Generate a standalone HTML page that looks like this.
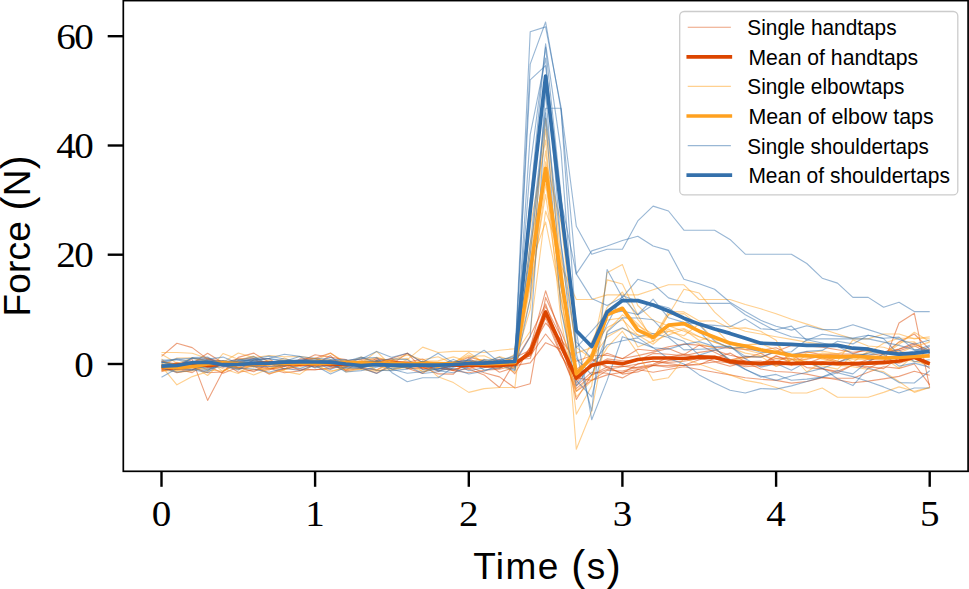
<!DOCTYPE html>
<html><head><meta charset="utf-8"><title>Force plot</title>
<style>
html,body{margin:0;padding:0;background:#fff;}
body{width:969px;height:589px;overflow:hidden;font-family:"Liberation Sans",sans-serif;}
svg{display:block;}
.tk{font-family:"Liberation Serif",serif;font-size:35.5px;fill:#000;}
.lg{font-family:"Liberation Sans",sans-serif;font-size:21.2px;fill:#000;}
.al{font-family:"Liberation Sans",sans-serif;font-size:37px;fill:#000;}
</style></head><body>
<svg width="969" height="589" viewBox="0 0 969 589">
<defs><clipPath id="ax"><rect x="123.3" y="0.5" width="844.8" height="470.8"/></clipPath></defs>
<rect x="0" y="0" width="969" height="589" fill="#fff"/>
<g fill="none" stroke-width="1.12" stroke-linejoin="round" clip-path="url(#ax)">
<g stroke="#dc4500" stroke-opacity="0.5">
<path d="M161.5 356.4 L176.9 343.2 L192.2 347.6 L207.6 359.1 L223.0 362.4 L238.3 368.9 L253.7 366.3 L269.0 369.0 L284.4 366.4 L299.8 362.9 L315.1 364.2 L330.5 355.6 L345.9 370.9 L361.2 367.9 L376.6 373.3 L392.0 364.1 L407.3 353.2 L422.7 369.4 L438.1 365.9 L453.4 362.7 L468.8 364.7 L484.1 362.0 L499.5 372.3 L514.9 367.3 L530.2 347.6 L545.6 290.8 L561.0 336.7 L576.3 399.5 L591.7 374.9 L607.1 369.5 L622.4 366.7 L637.8 364.0 L653.1 361.3 L668.5 362.4 L683.9 361.3 L699.2 358.5 L714.6 361.3 L730.0 362.9 L745.3 366.7 L760.7 365.6 L776.1 364.0 L791.4 362.9 L806.8 362.9 L822.2 364.0 L837.5 365.1 L852.9 364.0 L868.2 363.5 L883.6 363.2 L899.0 323.0 L914.3 313.2 L929.7 387.5"/>
<path d="M161.5 360.9 L176.9 365.6 L192.2 359.6 L207.6 400.4 L223.0 371.1 L238.3 363.6 L253.7 365.9 L269.0 374.1 L284.4 368.7 L299.8 365.3 L315.1 361.5 L330.5 366.5 L345.9 365.2 L361.2 362.0 L376.6 362.5 L392.0 358.2 L407.3 353.2 L422.7 362.9 L438.1 371.4 L453.4 363.8 L468.8 368.9 L484.1 374.9 L499.5 387.5 L514.9 361.3 L530.2 355.8 L545.6 334.0 L561.0 353.1 L576.3 391.3 L591.7 380.4 L607.1 374.9 L622.4 372.2 L637.8 369.5 L653.1 372.2 L668.5 369.5 L683.9 366.7 L699.2 369.5 L714.6 372.2 L730.0 374.9 L745.3 377.7 L760.7 379.3 L776.1 380.4 L791.4 383.1 L806.8 381.5 L822.2 377.7 L837.5 378.2 L852.9 378.2 L868.2 372.2 L883.6 366.7 L899.0 368.4 L914.3 364.0 L929.7 384.8"/>
<path d="M161.5 368.1 L176.9 362.2 L192.2 366.9 L207.6 372.7 L223.0 372.0 L238.3 357.4 L253.7 353.1 L269.0 361.9 L284.4 366.1 L299.8 364.0 L315.1 367.1 L330.5 360.0 L345.9 362.5 L361.2 367.8 L376.6 360.3 L392.0 364.7 L407.3 363.4 L422.7 363.8 L438.1 365.2 L453.4 363.2 L468.8 366.5 L484.1 372.7 L499.5 376.9 L514.9 388.0 L530.2 383.7 L545.6 297.4 L561.0 331.2 L576.3 369.5 L591.7 358.5 L607.1 366.6 L622.4 374.1 L637.8 371.9 L653.1 365.4 L668.5 360.5 L683.9 358.9 L699.2 359.0 L714.6 358.5 L730.0 363.2 L745.3 364.0 L760.7 363.5 L776.1 356.5 L791.4 359.2 L806.8 359.2 L822.2 356.0 L837.5 361.2 L852.9 365.3 L868.2 362.0 L883.6 353.8 L899.0 349.2 L914.3 344.2 L929.7 350.5"/>
<path d="M161.5 361.7 L176.9 363.8 L192.2 362.2 L207.6 357.8 L223.0 367.1 L238.3 365.6 L253.7 363.8 L269.0 366.2 L284.4 366.3 L299.8 361.8 L315.1 354.8 L330.5 357.3 L345.9 359.6 L361.2 368.4 L376.6 358.1 L392.0 361.0 L407.3 362.8 L422.7 368.0 L438.1 366.1 L453.4 369.4 L468.8 366.1 L484.1 363.1 L499.5 363.4 L514.9 361.3 L530.2 336.1 L545.6 303.9 L561.0 347.6 L576.3 385.9 L591.7 372.2 L607.1 373.3 L622.4 377.9 L637.8 369.5 L653.1 365.5 L668.5 367.1 L683.9 365.2 L699.2 359.8 L714.6 356.2 L730.0 363.6 L745.3 365.1 L760.7 364.2 L776.1 358.5 L791.4 359.0 L806.8 367.6 L822.2 368.9 L837.5 371.2 L852.9 364.9 L868.2 366.6 L883.6 368.6 L899.0 357.7 L914.3 356.4 L929.7 368.6"/>
<path d="M161.5 370.4 L176.9 369.0 L192.2 372.6 L207.6 362.9 L223.0 361.3 L238.3 367.7 L253.7 360.0 L269.0 358.5 L284.4 369.4 L299.8 358.9 L315.1 358.4 L330.5 353.0 L345.9 364.1 L361.2 361.9 L376.6 361.3 L392.0 362.0 L407.3 362.4 L422.7 359.0 L438.1 367.9 L453.4 370.8 L468.8 372.8 L484.1 370.2 L499.5 369.3 L514.9 365.6 L530.2 362.9 L545.6 342.7 L561.0 349.2 L576.3 373.8 L591.7 366.7 L607.1 358.9 L622.4 360.8 L637.8 360.3 L653.1 353.4 L668.5 354.3 L683.9 355.8 L699.2 352.4 L714.6 350.1 L730.0 355.3 L745.3 358.4 L760.7 353.2 L776.1 361.9 L791.4 355.1 L806.8 363.4 L822.2 357.7 L837.5 362.7 L852.9 365.0 L868.2 359.2 L883.6 360.5 L899.0 357.4 L914.3 358.4 L929.7 363.4"/>
<path d="M161.5 369.7 L176.9 369.3 L192.2 369.7 L207.6 364.2 L223.0 362.7 L238.3 364.5 L253.7 363.5 L269.0 364.4 L284.4 363.3 L299.8 360.6 L315.1 358.5 L330.5 364.4 L345.9 370.3 L361.2 361.0 L376.6 362.2 L392.0 358.7 L407.3 368.3 L422.7 367.3 L438.1 365.4 L453.4 370.5 L468.8 369.0 L484.1 363.3 L499.5 359.3 L514.9 373.8 L530.2 347.1 L545.6 306.6 L561.0 336.7 L576.3 383.1 L591.7 361.3 L607.1 353.2 L622.4 358.7 L637.8 349.3 L653.1 350.7 L668.5 346.8 L683.9 344.1 L699.2 345.1 L714.6 352.3 L730.0 359.8 L745.3 360.6 L760.7 365.2 L776.1 355.6 L791.4 363.0 L806.8 363.9 L822.2 364.1 L837.5 363.1 L852.9 354.8 L868.2 355.2 L883.6 353.8 L899.0 342.1 L914.3 334.0 L929.7 349.4"/>
<path d="M161.5 369.8 L176.9 369.2 L192.2 364.9 L207.6 365.9 L223.0 373.2 L238.3 367.2 L253.7 371.7 L269.0 363.8 L284.4 368.8 L299.8 369.0 L315.1 369.8 L330.5 368.8 L345.9 360.8 L361.2 359.1 L376.6 359.3 L392.0 360.6 L407.3 368.8 L422.7 368.3 L438.1 368.2 L453.4 369.9 L468.8 364.6 L484.1 367.3 L499.5 368.4 L514.9 359.6 L530.2 358.5 L545.6 317.6 L561.0 355.8 L576.3 377.7 L591.7 380.4 L607.1 370.4 L622.4 371.0 L637.8 367.1 L653.1 364.3 L668.5 357.2 L683.9 354.1 L699.2 357.6 L714.6 358.2 L730.0 353.1 L745.3 361.7 L760.7 361.0 L776.1 366.0 L791.4 363.4 L806.8 362.2 L822.2 368.8 L837.5 372.9 L852.9 364.9 L868.2 368.3 L883.6 361.2 L899.0 363.2 L914.3 358.4 L929.7 355.9"/>
<path d="M161.5 371.6 L176.9 366.4 L192.2 363.5 L207.6 353.3 L223.0 362.7 L238.3 358.8 L253.7 358.5 L269.0 368.4 L284.4 369.3 L299.8 365.7 L315.1 366.8 L330.5 365.9 L345.9 362.9 L361.2 366.8 L376.6 363.4 L392.0 366.3 L407.3 367.3 L422.7 363.3 L438.1 366.0 L453.4 363.7 L468.8 357.3 L484.1 360.9 L499.5 363.2 L514.9 357.4 L530.2 350.3 L545.6 323.0 L561.0 339.4 L576.3 361.3 L591.7 355.8 L607.1 355.3 L622.4 358.5 L637.8 355.6 L653.1 352.1 L668.5 348.4 L683.9 354.8 L699.2 345.1 L714.6 347.4 L730.0 348.1 L745.3 349.4 L760.7 350.4 L776.1 347.7 L791.4 355.3 L806.8 351.9 L822.2 354.8 L837.5 354.1 L852.9 353.9 L868.2 348.3 L883.6 352.0 L899.0 349.1 L914.3 342.9 L929.7 353.1"/>
<path d="M161.5 365.9 L176.9 372.8 L192.2 370.0 L207.6 358.8 L223.0 361.3 L238.3 368.0 L253.7 364.7 L269.0 368.3 L284.4 372.7 L299.8 370.9 L315.1 364.1 L330.5 362.5 L345.9 363.7 L361.2 367.7 L376.6 370.1 L392.0 361.2 L407.3 361.7 L422.7 366.9 L438.1 373.9 L453.4 374.1 L468.8 358.4 L484.1 366.2 L499.5 365.3 L514.9 366.7 L530.2 353.1 L545.6 314.8 L561.0 353.1 L576.3 388.6 L591.7 374.9 L607.1 367.0 L622.4 366.1 L637.8 368.1 L653.1 365.2 L668.5 365.5 L683.9 365.3 L699.2 364.0 L714.6 361.9 L730.0 366.2 L745.3 362.2 L760.7 369.0 L776.1 371.5 L791.4 372.3 L806.8 374.1 L822.2 377.3 L837.5 379.8 L852.9 382.7 L868.2 381.1 L883.6 378.9 L899.0 376.4 L914.3 371.3 L929.7 375.2"/>
<path d="M161.5 365.6 L176.9 366.6 L192.2 364.7 L207.6 363.3 L223.0 362.3 L238.3 372.2 L253.7 369.9 L269.0 369.9 L284.4 363.5 L299.8 370.2 L315.1 369.7 L330.5 367.8 L345.9 367.1 L361.2 361.3 L376.6 364.6 L392.0 360.3 L407.3 368.3 L422.7 373.4 L438.1 363.2 L453.4 361.9 L468.8 361.0 L484.1 362.2 L499.5 361.2 L514.9 362.4 L530.2 355.8 L545.6 310.5 L561.0 347.6 L576.3 372.2 L591.7 359.6 L607.1 367.8 L622.4 373.3 L637.8 363.9 L653.1 361.3 L668.5 363.6 L683.9 365.5 L699.2 364.7 L714.6 358.3 L730.0 360.0 L745.3 356.4 L760.7 357.3 L776.1 351.6 L791.4 345.5 L806.8 345.9 L822.2 347.1 L837.5 349.8 L852.9 352.2 L868.2 350.6 L883.6 352.1 L899.0 350.9 L914.3 345.7 L929.7 353.4"/>
</g>
<g stroke="#ffa11f" stroke-opacity="0.5">
<path d="M161.5 367.8 L176.9 367.1 L192.2 363.4 L207.6 361.0 L223.0 362.8 L238.3 367.2 L253.7 366.1 L269.0 365.2 L284.4 361.3 L299.8 361.5 L315.1 366.0 L330.5 370.8 L345.9 368.7 L361.2 369.4 L376.6 371.3 L392.0 367.8 L407.3 367.8 L422.7 362.9 L438.1 376.8 L453.4 382.6 L468.8 392.4 L484.1 388.6 L499.5 387.5 L514.9 387.5 L530.2 254.7 L545.6 118.2 L561.0 254.7 L576.3 449.2 L591.7 411.0 L607.1 331.2 L622.4 314.8 L637.8 325.8 L653.1 334.0 L668.5 331.2 L683.9 328.5 L699.2 336.7 L714.6 342.1 L730.0 347.6 L745.3 353.1 L760.7 355.8 L776.1 358.5 L791.4 360.7 L806.8 362.4 L822.2 362.4 L837.5 365.1 L852.9 366.7 L868.2 369.5 L883.6 371.6 L899.0 381.5 L914.3 392.4 L929.7 387.5"/>
<path d="M161.5 358.9 L176.9 372.1 L192.2 370.9 L207.6 366.0 L223.0 362.3 L238.3 353.0 L253.7 357.6 L269.0 355.5 L284.4 356.8 L299.8 356.6 L315.1 358.5 L330.5 362.2 L345.9 361.0 L361.2 367.3 L376.6 360.3 L392.0 366.8 L407.3 359.6 L422.7 347.1 L438.1 352.5 L453.4 351.4 L468.8 351.2 L484.1 352.5 L499.5 350.3 L514.9 348.7 L530.2 265.7 L545.6 129.1 L561.0 265.7 L576.3 299.5 L591.7 299.5 L607.1 294.9 L622.4 294.9 L637.8 294.9 L653.1 289.7 L668.5 284.8 L683.9 284.8 L699.2 299.5 L714.6 299.5 L730.0 299.5 L745.3 304.5 L760.7 308.8 L776.1 313.7 L791.4 319.2 L806.8 324.1 L822.2 329.0 L837.5 334.0 L852.9 338.9 L868.2 338.9 L883.6 334.0 L899.0 334.0 L914.3 338.9 L929.7 336.7"/>
<path d="M161.5 366.2 L176.9 384.8 L192.2 376.6 L207.6 371.6 L223.0 353.5 L238.3 359.2 L253.7 360.7 L269.0 364.4 L284.4 358.0 L299.8 364.4 L315.1 361.2 L330.5 364.8 L345.9 367.4 L361.2 362.4 L376.6 357.4 L392.0 361.1 L407.3 365.7 L422.7 361.2 L438.1 363.0 L453.4 362.2 L468.8 356.5 L484.1 355.7 L499.5 362.5 L514.9 361.8 L530.2 298.4 L545.6 183.7 L561.0 287.5 L576.3 414.3 L591.7 385.9 L607.1 272.8 L622.4 264.6 L637.8 305.5 L653.1 320.3 L668.5 325.8 L683.9 331.2 L699.2 336.7 L714.6 342.1 L730.0 347.6 L745.3 347.6 L760.7 350.3 L776.1 353.1 L791.4 355.8 L806.8 355.8 L822.2 358.5 L837.5 358.5 L852.9 355.8 L868.2 353.1 L883.6 343.2 L899.0 338.3 L914.3 338.3 L929.7 338.3"/>
<path d="M161.5 352.5 L176.9 352.5 L192.2 353.3 L207.6 358.5 L223.0 371.8 L238.3 359.7 L253.7 356.1 L269.0 365.8 L284.4 371.4 L299.8 374.4 L315.1 363.5 L330.5 365.8 L345.9 365.1 L361.2 365.9 L376.6 365.4 L392.0 369.4 L407.3 366.3 L422.7 371.3 L438.1 367.6 L453.4 364.3 L468.8 362.1 L484.1 364.1 L499.5 368.0 L514.9 361.3 L530.2 282.1 L545.6 150.9 L561.0 282.1 L576.3 380.4 L591.7 353.1 L607.1 279.9 L622.4 284.0 L637.8 314.8 L653.1 342.1 L668.5 314.8 L683.9 289.2 L699.2 293.0 L714.6 312.1 L730.0 325.8 L745.3 331.2 L760.7 334.0 L776.1 336.7 L791.4 339.4 L806.8 342.1 L822.2 344.3 L837.5 344.3 L852.9 347.6 L868.2 350.3 L883.6 353.1 L899.0 353.1 L914.3 346.5 L929.7 342.1"/>
<path d="M161.5 365.8 L176.9 358.0 L192.2 357.9 L207.6 361.8 L223.0 365.1 L238.3 367.5 L253.7 369.7 L269.0 368.1 L284.4 364.6 L299.8 362.0 L315.1 360.6 L330.5 353.3 L345.9 362.3 L361.2 363.2 L376.6 351.4 L392.0 366.5 L407.3 367.4 L422.7 364.8 L438.1 363.7 L453.4 362.1 L468.8 364.2 L484.1 362.5 L499.5 363.1 L514.9 365.6 L530.2 287.5 L545.6 194.6 L561.0 298.4 L576.3 391.3 L591.7 374.9 L607.1 347.6 L622.4 331.2 L637.8 353.1 L653.1 380.4 L668.5 377.7 L683.9 358.5 L699.2 364.0 L714.6 369.5 L730.0 374.9 L745.3 380.4 L760.7 383.1 L776.1 387.5 L791.4 393.0 L806.8 393.0 L822.2 388.0 L837.5 397.3 L852.9 397.3 L868.2 397.3 L883.6 392.4 L899.0 386.9 L914.3 391.3 L929.7 387.5"/>
<path d="M161.5 370.8 L176.9 370.9 L192.2 367.1 L207.6 369.9 L223.0 371.2 L238.3 364.5 L253.7 367.1 L269.0 362.6 L284.4 360.1 L299.8 360.9 L315.1 360.4 L330.5 362.8 L345.9 369.6 L361.2 366.7 L376.6 363.2 L392.0 366.0 L407.3 365.3 L422.7 361.3 L438.1 366.6 L453.4 362.4 L468.8 355.1 L484.1 362.4 L499.5 362.7 L514.9 357.4 L530.2 227.4 L545.6 140.0 L561.0 309.4 L576.3 374.9 L591.7 342.1 L607.1 307.4 L622.4 292.0 L637.8 319.3 L653.1 337.6 L668.5 314.6 L683.9 313.6 L699.2 325.8 L714.6 327.9 L730.0 344.0 L745.3 344.8 L760.7 343.5 L776.1 349.9 L791.4 359.1 L806.8 361.4 L822.2 365.9 L837.5 369.1 L852.9 354.9 L868.2 358.8 L883.6 355.8 L899.0 342.0 L914.3 341.9 L929.7 351.6"/>
<path d="M161.5 363.3 L176.9 370.2 L192.2 366.7 L207.6 368.2 L223.0 364.3 L238.3 369.1 L253.7 374.9 L269.0 368.7 L284.4 365.0 L299.8 366.8 L315.1 361.4 L330.5 364.0 L345.9 366.7 L361.2 363.1 L376.6 370.5 L392.0 369.9 L407.3 366.7 L422.7 361.5 L438.1 363.6 L453.4 362.5 L468.8 366.2 L484.1 363.7 L499.5 356.6 L514.9 361.3 L530.2 309.4 L545.6 161.9 L561.0 222.0 L576.3 353.1 L591.7 347.6 L607.1 327.6 L622.4 319.7 L637.8 334.8 L653.1 338.7 L668.5 311.6 L683.9 311.9 L699.2 321.1 L714.6 320.7 L730.0 328.6 L745.3 327.9 L760.7 331.3 L776.1 340.3 L791.4 365.6 L806.8 354.8 L822.2 359.3 L837.5 361.2 L852.9 339.9 L868.2 346.0 L883.6 347.2 L899.0 352.3 L914.3 357.1 L929.7 364.4"/>
<path d="M161.5 362.0 L176.9 364.3 L192.2 362.6 L207.6 363.0 L223.0 360.6 L238.3 364.1 L253.7 364.2 L269.0 373.4 L284.4 370.1 L299.8 363.8 L315.1 358.1 L330.5 362.9 L345.9 364.0 L361.2 357.1 L376.6 362.3 L392.0 360.0 L407.3 354.9 L422.7 359.7 L438.1 356.7 L453.4 363.8 L468.8 363.0 L484.1 363.9 L499.5 363.5 L514.9 368.4 L530.2 243.8 L545.6 172.8 L561.0 320.3 L576.3 396.8 L591.7 380.4 L607.1 314.4 L622.4 310.1 L637.8 324.0 L653.1 339.2 L668.5 329.1 L683.9 338.4 L699.2 343.8 L714.6 347.7 L730.0 360.6 L745.3 357.4 L760.7 356.3 L776.1 366.3 L791.4 359.8 L806.8 352.9 L822.2 351.0 L837.5 353.9 L852.9 348.7 L868.2 347.6 L883.6 354.7 L899.0 344.5 L914.3 332.2 L929.7 341.6"/>
<path d="M161.5 354.2 L176.9 363.0 L192.2 365.4 L207.6 375.5 L223.0 360.9 L238.3 365.8 L253.7 364.9 L269.0 362.1 L284.4 369.1 L299.8 364.3 L315.1 364.2 L330.5 372.1 L345.9 366.4 L361.2 359.8 L376.6 370.3 L392.0 363.3 L407.3 362.8 L422.7 361.4 L438.1 360.9 L453.4 356.9 L468.8 361.8 L484.1 359.2 L499.5 363.6 L514.9 354.2 L530.2 331.2 L545.6 211.0 L561.0 254.7 L576.3 347.6 L591.7 358.5 L607.1 337.0 L622.4 328.3 L637.8 335.0 L653.1 344.2 L668.5 331.3 L683.9 335.7 L699.2 323.8 L714.6 339.9 L730.0 341.6 L745.3 345.5 L760.7 343.7 L776.1 343.0 L791.4 363.8 L806.8 358.8 L822.2 353.1 L837.5 354.1 L852.9 362.2 L868.2 351.3 L883.6 357.9 L899.0 368.3 L914.3 355.4 L929.7 365.0"/>
<path d="M161.5 364.3 L176.9 363.5 L192.2 358.3 L207.6 360.9 L223.0 368.7 L238.3 373.5 L253.7 363.1 L269.0 360.4 L284.4 365.9 L299.8 361.1 L315.1 360.5 L330.5 359.6 L345.9 371.9 L361.2 368.9 L376.6 362.3 L392.0 360.0 L407.3 358.4 L422.7 372.2 L438.1 367.0 L453.4 363.2 L468.8 352.5 L484.1 363.0 L499.5 365.0 L514.9 372.2 L530.2 265.7 L545.6 222.0 L561.0 298.4 L576.3 374.9 L591.7 353.1 L607.1 320.1 L622.4 317.8 L637.8 346.9 L653.1 341.1 L668.5 334.9 L683.9 329.5 L699.2 340.5 L714.6 336.3 L730.0 343.4 L745.3 350.0 L760.7 353.5 L776.1 350.9 L791.4 354.9 L806.8 372.0 L822.2 361.7 L837.5 357.8 L852.9 359.3 L868.2 359.5 L883.6 356.6 L899.0 358.1 L914.3 361.4 L929.7 364.9"/>
</g>
<g stroke="#3470ab" stroke-opacity="0.5">
<path d="M161.5 362.4 L176.9 364.2 L192.2 365.3 L207.6 368.3 L223.0 366.8 L238.3 360.9 L253.7 360.9 L269.0 358.5 L284.4 360.6 L299.8 360.9 L315.1 361.9 L330.5 369.6 L345.9 363.2 L361.2 361.6 L376.6 361.0 L392.0 369.3 L407.3 373.2 L422.7 371.7 L438.1 369.3 L453.4 365.2 L468.8 364.7 L484.1 362.3 L499.5 365.7 L514.9 359.6 L530.2 31.8 L545.6 26.9 L561.0 107.2 L576.3 226.3 L591.7 254.2 L607.1 249.3 L622.4 249.3 L637.8 220.9 L653.1 206.1 L668.5 211.0 L683.9 230.2 L699.2 230.2 L714.6 230.2 L730.0 239.4 L745.3 254.2 L760.7 254.2 L776.1 254.2 L791.4 254.2 L806.8 263.5 L822.2 278.2 L837.5 283.1 L852.9 297.4 L868.2 297.4 L883.6 307.2 L899.0 302.3 L914.3 311.6 L929.7 311.6"/>
<path d="M161.5 361.9 L176.9 365.7 L192.2 358.0 L207.6 359.1 L223.0 357.1 L238.3 363.3 L253.7 366.6 L269.0 366.5 L284.4 365.6 L299.8 362.2 L315.1 362.2 L330.5 365.0 L345.9 368.2 L361.2 367.9 L376.6 361.0 L392.0 365.8 L407.3 363.9 L422.7 362.3 L438.1 369.1 L453.4 366.1 L468.8 359.8 L484.1 370.0 L499.5 368.0 L514.9 362.9 L530.2 64.1 L545.6 22.0 L561.0 110.0 L576.3 273.9 L591.7 250.9 L607.1 246.0 L622.4 240.5 L637.8 236.2 L653.1 246.0 L668.5 250.4 L683.9 279.3 L699.2 283.7 L714.6 289.2 L730.0 302.3 L745.3 311.6 L760.7 320.3 L776.1 326.3 L791.4 330.1 L806.8 325.8 L822.2 329.6 L837.5 329.6 L852.9 324.7 L868.2 329.6 L883.6 334.5 L899.0 339.4 L914.3 344.3 L929.7 340.0"/>
<path d="M161.5 367.4 L176.9 363.6 L192.2 364.1 L207.6 369.8 L223.0 363.3 L238.3 361.1 L253.7 359.0 L269.0 356.1 L284.4 359.0 L299.8 361.3 L315.1 367.9 L330.5 363.3 L345.9 366.1 L361.2 366.7 L376.6 370.2 L392.0 370.6 L407.3 369.1 L422.7 361.2 L438.1 370.7 L453.4 372.8 L468.8 367.0 L484.1 359.7 L499.5 359.8 L514.9 357.4 L530.2 79.9 L545.6 65.7 L561.0 200.1 L576.3 273.9 L591.7 298.4 L607.1 305.5 L622.4 297.4 L637.8 279.3 L653.1 284.0 L668.5 297.9 L683.9 302.5 L699.2 303.4 L714.6 303.4 L730.0 303.4 L745.3 314.8 L760.7 323.0 L776.1 331.2 L791.4 336.7 L806.8 338.9 L822.2 338.9 L837.5 338.9 L852.9 338.9 L868.2 338.9 L883.6 342.1 L899.0 345.4 L914.3 349.8 L929.7 349.8"/>
<path d="M161.5 377.3 L176.9 368.6 L192.2 369.0 L207.6 370.6 L223.0 363.1 L238.3 359.3 L253.7 361.3 L269.0 361.8 L284.4 361.3 L299.8 356.5 L315.1 358.2 L330.5 359.3 L345.9 359.8 L361.2 368.3 L376.6 360.9 L392.0 358.8 L407.3 359.6 L422.7 369.8 L438.1 369.1 L453.4 363.0 L468.8 370.7 L484.1 367.7 L499.5 361.7 L514.9 369.5 L530.2 243.8 L545.6 108.3 L561.0 108.3 L576.3 331.2 L591.7 419.7 L607.1 380.4 L622.4 336.7 L637.8 342.1 L653.1 347.6 L668.5 358.5 L683.9 364.0 L699.2 374.9 L714.6 383.1 L730.0 390.2 L745.3 393.0 L760.7 388.6 L776.1 389.1 L791.4 385.9 L806.8 381.5 L822.2 377.1 L837.5 372.7 L852.9 376.6 L868.2 381.5 L883.6 386.9 L899.0 393.0 L914.3 388.0 L929.7 388.0"/>
<path d="M161.5 360.0 L176.9 360.0 L192.2 362.8 L207.6 362.2 L223.0 360.6 L238.3 362.0 L253.7 358.6 L269.0 364.2 L284.4 365.7 L299.8 360.7 L315.1 362.4 L330.5 366.7 L345.9 361.5 L361.2 357.1 L376.6 362.7 L392.0 368.8 L407.3 366.7 L422.7 365.8 L438.1 366.0 L453.4 359.4 L468.8 366.0 L484.1 359.9 L499.5 367.2 L514.9 360.7 L530.2 200.1 L545.6 43.9 L561.0 150.9 L576.3 353.1 L591.7 411.0 L607.1 269.5 L622.4 297.4 L637.8 314.8 L653.1 305.0 L668.5 309.9 L683.9 319.2 L699.2 331.2 L714.6 347.6 L730.0 361.3 L745.3 369.5 L760.7 376.0 L776.1 380.4 L791.4 376.0 L806.8 372.2 L822.2 368.4 L837.5 362.4 L852.9 357.4 L868.2 353.1 L883.6 352.0 L899.0 355.8 L914.3 350.9 L929.7 345.4"/>
<path d="M161.5 362.9 L176.9 359.1 L192.2 358.4 L207.6 360.1 L223.0 361.7 L238.3 362.4 L253.7 361.0 L269.0 363.3 L284.4 362.6 L299.8 361.1 L315.1 362.7 L330.5 360.4 L345.9 360.2 L361.2 359.1 L376.6 351.4 L392.0 357.4 L407.3 353.3 L422.7 362.4 L438.1 353.3 L453.4 362.9 L468.8 359.6 L484.1 350.3 L499.5 362.4 L514.9 362.4 L530.2 167.3 L545.6 47.1 L561.0 194.6 L576.3 342.1 L591.7 358.5 L607.1 324.2 L622.4 295.8 L637.8 301.0 L653.1 304.1 L668.5 307.8 L683.9 319.5 L699.2 324.7 L714.6 341.1 L730.0 348.2 L745.3 347.1 L760.7 352.2 L776.1 353.2 L791.4 351.7 L806.8 339.7 L822.2 343.0 L837.5 346.5 L852.9 353.7 L868.2 355.0 L883.6 352.8 L899.0 350.2 L914.3 361.7 L929.7 359.8"/>
<path d="M161.5 364.3 L176.9 367.9 L192.2 369.8 L207.6 372.4 L223.0 362.8 L238.3 360.5 L253.7 356.6 L269.0 364.4 L284.4 364.2 L299.8 368.6 L315.1 363.0 L330.5 357.3 L345.9 364.5 L361.2 358.1 L376.6 357.5 L392.0 372.7 L407.3 381.8 L422.7 377.7 L438.1 377.7 L453.4 367.3 L468.8 363.3 L484.1 362.1 L499.5 357.2 L514.9 366.7 L530.2 134.6 L545.6 58.1 L561.0 243.8 L576.3 380.4 L591.7 396.8 L607.1 332.2 L622.4 317.8 L637.8 318.0 L653.1 319.8 L668.5 336.1 L683.9 341.3 L699.2 355.1 L714.6 350.3 L730.0 346.3 L745.3 356.4 L760.7 357.1 L776.1 351.5 L791.4 354.5 L806.8 351.4 L822.2 350.4 L837.5 341.3 L852.9 343.9 L868.2 335.3 L883.6 338.2 L899.0 337.1 L914.3 349.8 L929.7 352.8"/>
<path d="M161.5 368.3 L176.9 372.1 L192.2 370.2 L207.6 363.1 L223.0 365.8 L238.3 368.4 L253.7 369.0 L269.0 372.3 L284.4 368.2 L299.8 370.5 L315.1 365.5 L330.5 374.0 L345.9 367.2 L361.2 368.0 L376.6 373.4 L392.0 365.4 L407.3 365.7 L422.7 373.5 L438.1 371.7 L453.4 366.3 L468.8 366.9 L484.1 362.2 L499.5 360.3 L514.9 355.8 L530.2 254.7 L545.6 112.7 L561.0 243.8 L576.3 347.6 L591.7 331.2 L607.1 313.7 L622.4 311.1 L637.8 314.5 L653.1 299.1 L668.5 317.8 L683.9 322.4 L699.2 324.3 L714.6 325.4 L730.0 326.7 L745.3 319.1 L760.7 328.8 L776.1 329.7 L791.4 326.1 L806.8 340.3 L822.2 334.2 L837.5 336.1 L852.9 338.1 L868.2 335.2 L883.6 338.6 L899.0 354.8 L914.3 354.4 L929.7 346.6"/>
<path d="M161.5 365.2 L176.9 368.4 L192.2 357.6 L207.6 357.1 L223.0 365.6 L238.3 370.0 L253.7 360.0 L269.0 358.3 L284.4 354.3 L299.8 356.4 L315.1 364.0 L330.5 363.0 L345.9 372.0 L361.2 370.6 L376.6 367.2 L392.0 363.4 L407.3 366.6 L422.7 365.7 L438.1 362.9 L453.4 362.0 L468.8 360.6 L484.1 361.7 L499.5 364.2 L514.9 362.9 L530.2 336.7 L545.6 118.2 L561.0 309.4 L576.3 385.9 L591.7 364.0 L607.1 344.8 L622.4 340.8 L637.8 337.9 L653.1 347.7 L668.5 349.1 L683.9 344.4 L699.2 341.6 L714.6 346.6 L730.0 346.0 L745.3 358.7 L760.7 367.1 L776.1 363.6 L791.4 370.3 L806.8 362.1 L822.2 368.0 L837.5 378.8 L852.9 385.6 L868.2 368.0 L883.6 373.0 L899.0 382.6 L914.3 383.0 L929.7 370.7"/>
<path d="M161.5 361.2 L176.9 358.9 L192.2 361.7 L207.6 367.5 L223.0 364.9 L238.3 363.0 L253.7 359.1 L269.0 358.7 L284.4 361.5 L299.8 359.5 L315.1 359.9 L330.5 361.3 L345.9 362.6 L361.2 364.3 L376.6 361.4 L392.0 367.0 L407.3 367.8 L422.7 365.7 L438.1 370.5 L453.4 368.6 L468.8 374.0 L484.1 371.2 L499.5 365.0 L514.9 370.6 L530.2 298.4 L545.6 90.9 L561.0 287.5 L576.3 358.5 L591.7 374.9 L607.1 334.6 L622.4 327.7 L637.8 336.9 L653.1 333.5 L668.5 337.5 L683.9 349.9 L699.2 349.3 L714.6 348.6 L730.0 359.6 L745.3 369.3 L760.7 377.1 L776.1 374.4 L791.4 380.3 L806.8 379.1 L822.2 377.1 L837.5 370.6 L852.9 373.9 L868.2 361.3 L883.6 354.2 L899.0 366.1 L914.3 363.1 L929.7 367.1"/>
</g>
</g>
<g fill="none" stroke-width="3.7" stroke-linejoin="round" stroke-linecap="butt" clip-path="url(#ax)">
<path stroke="#dc4500" d="M161.5 367.3 L176.9 365.1 L192.2 363.5 L207.6 365.6 L223.0 364.0 L238.3 363.5 L253.7 364.0 L269.0 362.9 L284.4 363.5 L299.8 364.0 L315.1 363.5 L330.5 364.0 L345.9 364.5 L361.2 364.0 L376.6 363.5 L392.0 364.0 L407.3 364.0 L422.7 364.5 L438.1 364.0 L453.4 365.1 L468.8 365.1 L484.1 365.6 L499.5 365.6 L514.9 364.0 L530.2 352.5 L545.6 312.1 L561.0 345.4 L576.3 378.2 L591.7 365.4 L607.1 362.0 L622.4 363.7 L637.8 359.5 L653.1 358.0 L668.5 358.0 L683.9 358.5 L699.2 356.9 L714.6 357.4 L730.0 361.3 L745.3 362.9 L760.7 363.5 L776.1 362.6 L791.4 363.7 L806.8 363.2 L822.2 363.2 L837.5 363.5 L852.9 363.5 L868.2 363.2 L883.6 362.6 L899.0 361.0 L914.3 357.2 L929.7 363.7"/>
<path stroke="#ffa11f" d="M161.5 366.7 L176.9 367.3 L192.2 366.7 L207.6 364.0 L223.0 362.9 L238.3 363.5 L253.7 364.0 L269.0 363.5 L284.4 363.5 L299.8 362.9 L315.1 363.5 L330.5 362.9 L345.9 362.4 L361.2 362.9 L376.6 363.5 L392.0 363.5 L407.3 364.0 L422.7 363.5 L438.1 363.5 L453.4 364.0 L468.8 363.5 L484.1 364.0 L499.5 363.5 L514.9 362.4 L530.2 272.2 L545.6 168.4 L561.0 276.6 L576.3 373.8 L591.7 357.7 L607.1 314.8 L622.4 308.3 L637.8 330.1 L653.1 337.2 L668.5 325.2 L683.9 323.6 L699.2 331.2 L714.6 337.2 L730.0 343.2 L745.3 346.0 L760.7 349.8 L776.1 352.5 L791.4 355.3 L806.8 355.8 L822.2 356.4 L837.5 356.9 L852.9 356.4 L868.2 357.2 L883.6 358.0 L899.0 357.4 L914.3 356.4 L929.7 355.8"/>
<path stroke="#3470ab" d="M161.5 366.2 L176.9 365.5 L192.2 362.7 L207.6 362.1 L223.0 364.7 L238.3 364.3 L253.7 363.5 L269.0 363.1 L284.4 362.1 L299.8 361.8 L315.1 362.0 L330.5 362.1 L345.9 364.0 L361.2 365.5 L376.6 364.7 L392.0 365.1 L407.3 365.1 L422.7 365.1 L438.1 365.1 L453.4 364.7 L468.8 363.5 L484.1 363.1 L499.5 362.1 L514.9 361.3 L530.2 211.0 L545.6 76.1 L561.0 208.3 L576.3 330.7 L591.7 346.5 L607.1 312.1 L622.4 300.6 L637.8 300.6 L653.1 305.0 L668.5 311.0 L683.9 318.1 L699.2 324.1 L714.6 329.0 L730.0 333.4 L745.3 338.3 L760.7 343.2 L776.1 343.8 L791.4 344.3 L806.8 345.4 L822.2 345.4 L837.5 345.4 L852.9 348.2 L868.2 349.2 L883.6 352.5 L899.0 354.2 L914.3 353.1 L929.7 351.4"/>
</g>
<rect x="123.3" y="0.6" width="844.8" height="470.7" fill="none" stroke="#000" stroke-width="1.7"/>
<g stroke="#000" stroke-width="2.4">
<line x1="161.5" y1="471.3" x2="161.5" y2="486.8" />
<line x1="315.1" y1="471.3" x2="315.1" y2="486.8" />
<line x1="468.8" y1="471.3" x2="468.8" y2="486.8" />
<line x1="622.4" y1="471.3" x2="622.4" y2="486.8" />
<line x1="776.1" y1="471.3" x2="776.1" y2="486.8" />
<line x1="929.7" y1="471.3" x2="929.7" y2="486.8" />
<line x1="107.7" y1="364.0" x2="123.3" y2="364.0" />
<line x1="107.7" y1="254.7" x2="123.3" y2="254.7" />
<line x1="107.7" y1="145.5" x2="123.3" y2="145.5" />
<line x1="107.7" y1="36.2" x2="123.3" y2="36.2" />
</g>
<g class="tk">
<text transform="translate(161.5,526) scale(1.1,1)" text-anchor="middle">0</text>
<text transform="translate(315.1,526) scale(1.1,1)" text-anchor="middle">1</text>
<text transform="translate(468.8,526) scale(1.1,1)" text-anchor="middle">2</text>
<text transform="translate(622.4,526) scale(1.1,1)" text-anchor="middle">3</text>
<text transform="translate(776.1,526) scale(1.1,1)" text-anchor="middle">4</text>
<text transform="translate(929.7,526) scale(1.1,1)" text-anchor="middle">5</text>
<text transform="translate(92.2,376.7) scale(1.1,1)" text-anchor="end" letter-spacing="-1.4">0</text>
<text transform="translate(92.2,267.4) scale(1.1,1)" text-anchor="end" letter-spacing="-1.4">20</text>
<text transform="translate(92.2,158.2) scale(1.1,1)" text-anchor="end" letter-spacing="-1.4">40</text>
<text transform="translate(92.2,48.9) scale(1.1,1)" text-anchor="end" letter-spacing="-1.4">60</text>
</g>
<text class="al" x="473.2" y="578.8" letter-spacing="1.4">Time <tspan font-size="42" dy="1">(</tspan><tspan dy="-1">s</tspan><tspan font-size="42" dy="1">)</tspan></text>
<text class="al" transform="translate(29.5,316.5) rotate(-90)" letter-spacing="0.2">Force <tspan font-size="42" dy="1">(</tspan><tspan dy="-1">N</tspan><tspan font-size="42" dy="1">)</tspan></text>
<rect x="679.7" y="11.5" width="278.1" height="183.4" rx="4.5" ry="4.5" fill="#fff" fill-opacity="0.8" stroke="#cccccc" stroke-width="1.3"/>
<g class="lg">
<line x1="688.3" y1="27.2" x2="730.3" y2="27.2" stroke="#dc4500" stroke-opacity="0.5" stroke-width="1.12" stroke-linecap="square"/>
<text x="747.3" y="35.1" textLength="149.3" lengthAdjust="spacingAndGlyphs">Single handtaps</text>
<line x1="688.3" y1="56.8" x2="730.3" y2="56.8" stroke="#dc4500" stroke-width="3.7" stroke-linecap="square"/>
<text x="748.4" y="64.7" textLength="169.7" lengthAdjust="spacingAndGlyphs">Mean of handtaps</text>
<line x1="688.3" y1="86.4" x2="730.3" y2="86.4" stroke="#ffa11f" stroke-opacity="0.5" stroke-width="1.12" stroke-linecap="square"/>
<text x="747.3" y="94.3" textLength="157.1" lengthAdjust="spacingAndGlyphs">Single elbowtaps</text>
<line x1="688.3" y1="116.0" x2="730.3" y2="116.0" stroke="#ffa11f" stroke-width="3.7" stroke-linecap="square"/>
<text x="748.4" y="123.9" textLength="185.2" lengthAdjust="spacingAndGlyphs">Mean of elbow taps</text>
<line x1="688.3" y1="145.6" x2="730.3" y2="145.6" stroke="#3470ab" stroke-opacity="0.5" stroke-width="1.12" stroke-linecap="square"/>
<text x="747.3" y="153.5" textLength="181.6" lengthAdjust="spacingAndGlyphs">Single shouldertaps</text>
<line x1="688.3" y1="175.2" x2="730.3" y2="175.2" stroke="#3470ab" stroke-width="3.7" stroke-linecap="square"/>
<text x="748.4" y="183.1" textLength="201.5" lengthAdjust="spacingAndGlyphs">Mean of shouldertaps</text>
</g>
</svg>
</body></html>
